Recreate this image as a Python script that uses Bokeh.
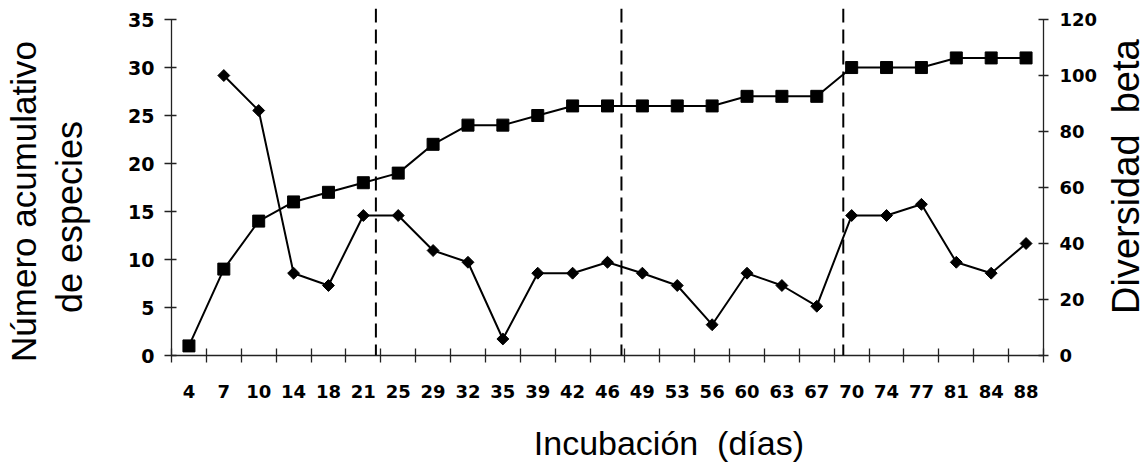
import math
from bokeh.plotting import figure
from bokeh.layouts import row
from bokeh.models import Range1d, LinearAxis, FixedTicker, Span, ColumnDataSource
from bokeh.embed import file_html
from bokeh.resources import INLINE

# ---- data ----
days = ["4", "7", "10", "14", "18", "21", "25", "29", "32", "35", "39", "42", "46",
        "49", "53", "56", "60", "63", "67", "70", "74", "77", "81", "84", "88"]
species = [1, 9, 14, 16, 17, 18, 19, 22, 24, 24, 25, 26, 26,
           26, 26, 26, 27, 27, 27, 30, 30, 30, 31, 31, 31]
beta = [float("nan"), 100, 87.5, 29.4, 25, 50, 50, 37.5, 33.3, 5.9, 29.4, 29.4, 33.3,
        29.4, 25, 11, 29.4, 25, 17.6, 50, 50, 54, 33.3, 29.4, 40]
# phase boundaries (dashed lines), in category-slot units
phase_breaks = [5.86, 12.9, 19.26]
species_ticks = [0, 5, 10, 15, 20, 25, 30, 35]
beta_ticks = [0, 20, 40, 60, 80, 100, 120]

NB = "\u00a0"
n = len(days)
xs = [i + 0.5 for i in range(n)]
ytop = 36.15
H = 464
MAIN_W, RIGHT_W = 1100, 48
B_TOP, B_BOTTOM = 8, 109

TICK_FONT = "DejaVu Sans"
TITLE_FONT = "Liberation Sans"
AX = "#222222"

p = figure(width=MAIN_W, height=H, output_backend="svg", toolbar_location=None,
           x_range=Range1d(0, n), y_range=Range1d(0, ytop),
           x_axis_location=None, y_axis_location=None,
           min_border_left=170, min_border_right=53,
           min_border_top=B_TOP, min_border_bottom=B_BOTTOM)
p.extra_y_ranges = {"beta": Range1d(0, 120 * ytop / 35)}
p.outline_line_color = None
for g in p.grid:
    g.visible = False

# bottom axis: labels at slot centres, tick marks at slot boundaries
xaxis = LinearAxis(
    ticker=FixedTicker(ticks=xs, minor_ticks=list(range(n + 1))),
    major_label_overrides={x: d for x, d in zip(xs, days)},
    major_tick_in=0, major_tick_out=0,
    minor_tick_in=7, minor_tick_out=7, minor_tick_line_color=AX, minor_tick_line_width=1.3,
    axis_line_color=AX, axis_line_width=1.3,
    major_label_text_font=TICK_FONT, major_label_text_font_style="bold",
    major_label_text_font_size="18px", major_label_text_color="black",
    major_label_standoff=22,
    axis_label=NB * 13 + "Incubación" + NB * 2 + "(días)",
    axis_label_text_font=TITLE_FONT, axis_label_text_font_style="normal",
    axis_label_text_font_size="34px", axis_label_text_color="black",
    axis_label_standoff=23,
)
p.add_layout(xaxis, "below")

# left axis (its label is the second title line)
yaxis = LinearAxis(
    ticker=FixedTicker(ticks=species_ticks), bounds=(0, 35),
    major_tick_in=5, major_tick_out=7, major_tick_line_color=AX, major_tick_line_width=1.3,
    minor_tick_line_color=None,
    axis_line_color=AX, axis_line_width=1.3,
    major_label_text_font=TICK_FONT, major_label_text_font_style="bold",
    major_label_text_font_size="19px", major_label_text_color="black",
    major_label_standoff=10,
    axis_label="de especies" + NB * 7,
    axis_label_text_font=TITLE_FONT, axis_label_text_font_style="normal",
    axis_label_text_font_size="36px", axis_label_text_color="black",
    axis_label_standoff=35,
)
p.add_layout(yaxis, "left")

# outer, tick-less axis carrying the first title line
ytitle1 = LinearAxis(
    ticker=FixedTicker(ticks=[]), axis_line_color=None,
    major_tick_in=0, major_tick_out=0, minor_tick_in=0, minor_tick_out=0,
    major_tick_line_color=None, minor_tick_line_color=None,
    major_label_standoff=0,
    axis_label="Número acumulativo" + NB * 4,
    axis_label_text_font=TITLE_FONT, axis_label_text_font_style="normal",
    axis_label_text_font_size="35px", axis_label_text_color="black",
    axis_label_standoff=4,
)
p.add_layout(ytitle1, "left")

# right axis
raxis = LinearAxis(
    y_range_name="beta", ticker=FixedTicker(ticks=beta_ticks), bounds=(0, 120),
    major_tick_in=5, major_tick_out=5, major_tick_line_color=AX, major_tick_line_width=1.3,
    minor_tick_line_color=None,
    axis_line_color=AX, axis_line_width=1.3,
    major_label_text_font=TICK_FONT, major_label_text_font_style="bold",
    major_label_text_font_size="18px", major_label_text_color="black",
    major_label_standoff=11,
)
p.add_layout(raxis, "right")

for b in phase_breaks:
    p.add_layout(Span(location=b, dimension="height", line_color="black",
                      line_width=2, line_dash="14 7"))

src = ColumnDataSource(dict(x=xs, species=species, beta=beta))
p.line("x", "species", source=src, line_color="black", line_width=2)
p.scatter("x", "species", source=src, marker="square", size=12,
          fill_color="black", line_color="black")
p.line("x", "beta", source=src, y_range_name="beta", line_color="black", line_width=2)
p.scatter("x", "beta", source=src, y_range_name="beta", marker="square",
          angle=math.pi / 4, size=8.4, fill_color="black", line_color="black")

# right-hand title strip: a tick-less left axis so the title reads bottom-to-top
pr = figure(width=RIGHT_W, height=H, output_backend="svg", toolbar_location=None,
            x_range=Range1d(0, 1), y_range=Range1d(0, 1),
            x_axis_location=None, y_axis_location=None,
            min_border_left=RIGHT_W - 2, min_border_right=0,
            min_border_top=B_TOP, min_border_bottom=B_BOTTOM)
pr.outline_line_color = None
for g in pr.grid:
    g.visible = False
rtitle = LinearAxis(
    ticker=FixedTicker(ticks=[]), axis_line_color=None,
    major_tick_in=0, major_tick_out=0, minor_tick_in=0, minor_tick_out=0,
    major_tick_line_color=None, minor_tick_line_color=None,
    major_label_standoff=0,
    axis_label=NB + "Diversidad" + NB * 2 + "beta",
    axis_label_text_font=TITLE_FONT, axis_label_text_font_style="normal",
    axis_label_text_font_size="38px", axis_label_text_color="black",
    axis_label_standoff=0,
)
pr.add_layout(rtitle, "left")

layout = row(p, pr, spacing=0)
open("out.html", "w").write(file_html(layout, INLINE))
